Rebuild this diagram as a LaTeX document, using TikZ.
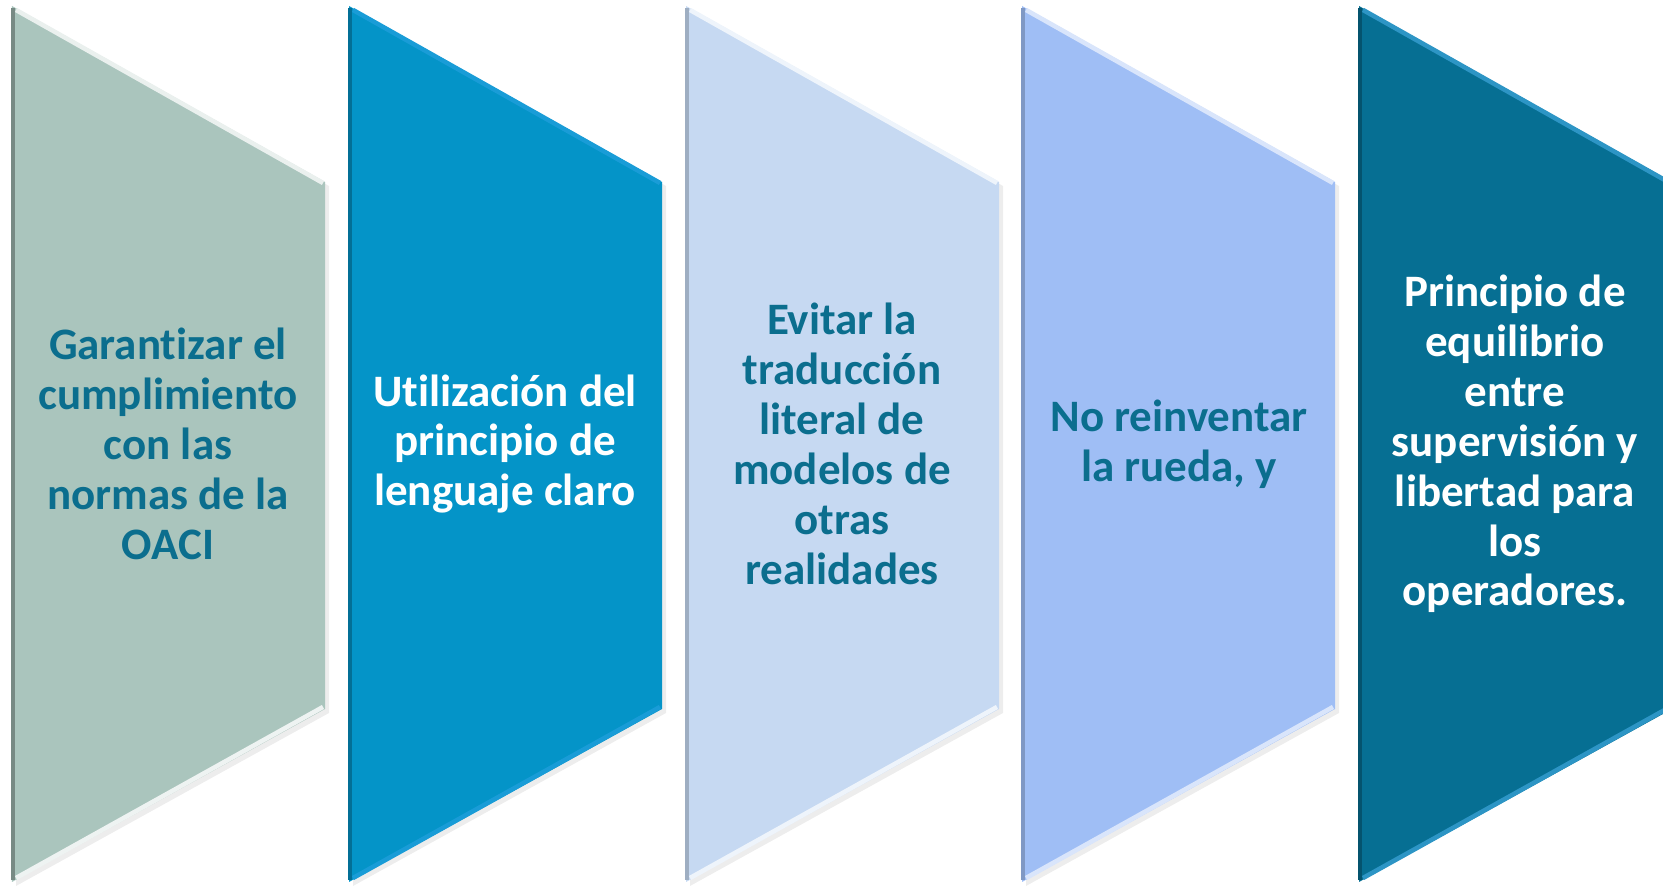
\documentclass[tikz,border=0pt]{standalone}
\usepackage{fontspec}
\setmainfont{Carlito}[Ligatures=NoCommon]
\usepackage{xcolor}
\usepackage{tikz}
\usetikzlibrary{calc}

\definecolor{grisverde}{HTML}{AAC5BD}
\definecolor{azulmedio}{HTML}{0494C8}
\definecolor{azulpalido}{HTML}{C6D9F2}
\definecolor{azulcielo}{HTML}{9FBEF5}
\definecolor{azulprofundo}{HTML}{066F93}
\definecolor{textoteal}{HTML}{0B6E8E}

\begin{document}
\begin{tikzpicture}[line join=round,
		band/.style={fill=#1},
		sombra/.style={fill=black!7},
		brillo/.style={draw=#1, line width=1.3pt},
		borde/.style={draw=#1, line width=1.2pt},
		lbl/.style={align=center, inner sep=0pt, font=\fontsize{12.8}{14.2}\selectfont\bfseries}]
		\useasboundingbox (0,0) rectangle (16.63,8.87);

		% sombras
		\fill[sombra] (0.16,8.77) -- ++(3.13,-1.76) -- ++(0,-5.27) -- ++(-3.13,-1.73) -- cycle;
		\fill[sombra] (3.53,8.77) -- ++(3.13,-1.76) -- ++(0,-5.27) -- ++(-3.13,-1.73) -- cycle;
		\fill[sombra] (6.90,8.77) -- ++(3.13,-1.76) -- ++(0,-5.27) -- ++(-3.13,-1.73) -- cycle;
		\fill[sombra] (10.26,8.77) -- ++(3.13,-1.76) -- ++(0,-5.27) -- ++(-3.13,-1.73) -- cycle;

		% bandas
		\fill[band=grisverde] (0.12,8.81) -- ++(3.13,-1.76) -- ++(0,-5.27) -- ++(-3.13,-1.73) -- cycle;
		\fill[band=azulmedio] (3.49,8.81) -- ++(3.13,-1.76) -- ++(0,-5.27) -- ++(-3.13,-1.73) -- cycle;
		\fill[band=azulpalido] (6.86,8.81) -- ++(3.13,-1.76) -- ++(0,-5.27) -- ++(-3.13,-1.73) -- cycle;
		\fill[band=azulcielo] (10.22,8.81) -- ++(3.13,-1.76) -- ++(0,-5.27) -- ++(-3.13,-1.73) -- cycle;
		\fill[band=azulprofundo] (13.59,8.81) -- ++(3.13,-1.76) -- ++(0,-5.27) -- ++(-3.13,-1.73) -- cycle;

		% bordes oscuros a la izquierda
		\draw[borde=grisverde!70!black] (0.13,8.79) -- (0.13,0.07);
		\draw[borde=azulmedio!75!black] (3.50,8.79) -- (3.50,0.07);
		\draw[borde=azulpalido!80!black] (6.87,8.79) -- (6.87,0.07);
		\draw[borde=azulcielo!80!black] (10.23,8.79) -- (10.23,0.07);
		\draw[borde=azulprofundo!75!black] (13.60,8.79) -- (13.60,0.07);

		% brillos en los cantos inclinados
		\draw[brillo=white!75!grisverde] (0.16,8.77) -- (3.23,7.04);
		\draw[brillo=white!80!grisverde] (0.16,0.09) -- (3.23,1.80);
		\draw[brillo=cyan!60!azulmedio] (3.53,8.77) -- (6.60,7.04);
		\draw[brillo=cyan!60!azulmedio] (3.53,0.09) -- (6.60,1.80);
		\draw[brillo=white!70!azulpalido] (6.90,8.77) -- (9.97,7.04);
		\draw[brillo=white!70!azulpalido] (6.90,0.09) -- (9.97,1.80);
		\draw[brillo=white!60!azulcielo] (10.26,8.77) -- (13.33,7.04);
		\draw[brillo=white!60!azulcielo] (10.26,0.09) -- (13.33,1.80);
		\draw[brillo=cyan!55!azulprofundo] (13.63,8.77) -- (16.70,7.04);
		\draw[brillo=cyan!55!azulprofundo] (13.63,0.09) -- (16.70,1.80);

		% textos
		\node[lbl, text=textoteal](oaci) at (1.68,4.43) {Garantizar el\\cumplimiento\\con las\\normas de la\\OACI};
		\node[lbl, text=white](claro) at (5.05,4.43) {Utilización del\\principio de\\lenguaje claro};
		\node[lbl, text=textoteal](literal) at (8.42,4.43) {Evitar la\\traducción\\literal de\\modelos de\\otras\\realidades};
		\node[lbl, text=textoteal](rueda) at (11.79,4.43) {No reinventar\\la rueda, y};
		\node[lbl, text=white](equilibrio) at (15.15,4.43) {Principio de\\equilibrio\\entre\\supervisión y\\libertad para\\los\\operadores.};
	\end{tikzpicture}
\end{document}
